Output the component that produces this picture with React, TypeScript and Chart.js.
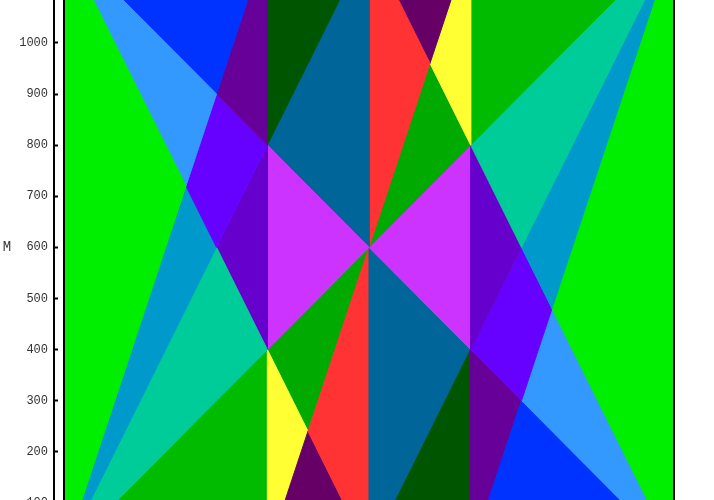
import { useEffect, useRef } from 'react';
import { Chart, registerables } from 'chart.js';

Chart.register(...registerables);

// ---- axis data ----
const yTickValues = [0, 100, 200, 300, 400, 500, 600, 700, 800, 900, 1000, 1100, 1200];
const yTitle = 'M';
const X_MIN = -19.67;
const X_MAX = 1200;
const Y_MIN = 0;
const Y_MAX = 1200;

// ---- region vertices (data units) ----
const brightGreenLeft = [[0, 0], [240, 720], [0, 1200]];
const lightBlueLeft = [[0, 1200], [240, 720], [300, 900]];
const blueLeft = [[0, 1200], [300, 900], [400, 1200]];
const indigoLeft = [[400, 1200], [300, 900], [400, 800]];
const violetLeft = [[300, 900], [400, 800], [300, 600], [240, 720]];
const skyLeft = [[0, 0], [300, 600], [240, 720]];
const tealLeft = [[400, 400], [0, 0], [300, 600]];
const purpleLeft = [[400, 400], [300, 600], [400, 800]];
const magentaLeft = [[400, 800], [600, 600], [400, 400]];
const darkGreenTop = [[400, 800], [400, 1200], [600, 1200]];
const steelTop = [[400, 800], [600, 1200], [600, 600]];
const redTop = [[600, 600], [720, 960], [600, 1200]];
const plumTop = [[720, 960], [600, 1200], [800, 1200]];
const yellowTop = [[720, 960], [800, 1200], [800, 800]];
const midGreenTop = [[600, 600], [720, 960], [800, 800]];
const greenTopRight = [[800, 800], [800, 1200], [1200, 1200]];
const tealRight = [[800, 800], [1200, 1200], [900, 600]];
const skyRight = [[1200, 1200], [900, 600], [960, 480]];
const brightGreenRight = [[1200, 1200], [960, 480], [1200, 0]];
const purpleRight = [[800, 800], [900, 600], [800, 400]];
const violetRight = [[900, 300], [800, 400], [900, 600], [960, 480]];
const lightBlueRight = [[1200, 0], [960, 480], [900, 300]];
const blueRight = [[1200, 0], [900, 300], [800, 0]];
const indigoRight = [[800, 0], [900, 300], [800, 400]];
const magentaRight = [[800, 400], [600, 600], [800, 800]];
const darkGreenBottom = [[800, 400], [800, 0], [600, 0]];
const steelBottom = [[800, 400], [600, 0], [600, 600]];
const redBottom = [[600, 600], [480, 240], [600, 0]];
const plumBottom = [[480, 240], [600, 0], [400, 0]];
const yellowBottom = [[480, 240], [400, 0], [400, 400]];
const midGreenBottom = [[600, 600], [480, 240], [400, 400]];
const greenBottomLeft = [[400, 400], [400, 0], [0, 0]];

const frame = [[0, 0], [1200, 0], [1200, 1200], [0, 1200]];

const regions = [
  brightGreenLeft, lightBlueLeft, blueLeft, indigoLeft, violetLeft, skyLeft, tealLeft, purpleLeft,
  magentaLeft, darkGreenTop, steelTop, redTop, plumTop, yellowTop, midGreenTop, greenTopRight,
  tealRight, skyRight, brightGreenRight, purpleRight, violetRight, lightBlueRight, blueRight, indigoRight,
  magentaRight, darkGreenBottom, steelBottom, redBottom, plumBottom, yellowBottom, midGreenBottom, greenBottomLeft,
];
const regionColors = [
  '#00ee00', '#3399ff', '#0033ff', '#660099', '#6600ff', '#0099cc', '#00cc99', '#6600cc',
  '#cc33ff', '#005500', '#006699', '#ff3333', '#660066', '#ffff33', '#00aa00', '#00bb00',
  '#00cc99', '#0099cc', '#00ee00', '#6600cc', '#6600ff', '#3399ff', '#0033ff', '#660099',
  '#cc33ff', '#005500', '#006699', '#ff3333', '#660066', '#ffff33', '#00aa00', '#00bb00',
];

const toPoints = (poly: number[][]) => {
  const pts = poly.map(([x, y]) => ({ x, y }));
  pts.push({ x: poly[0][0], y: poly[0][1] });
  return pts;
};

const yTitlePlugin = {
  id: 'yTitleUpright',
  afterDraw(chart: any) {
    const ys = chart.scales.y;
    const ctx = chart.ctx;
    ctx.save();
    ctx.font = '14px "Liberation Mono", monospace';
    ctx.fillStyle = '#333';
    ctx.textAlign = 'center';
    ctx.textBaseline = 'middle';
    ctx.fillText(yTitle, ys.left + 7, (ys.top + ys.bottom) / 2);
    ctx.restore();
  },
};

export default function App() {
  const ref = useRef<HTMLCanvasElement>(null);

  useEffect(() => {
    if (!ref.current) return;
    const datasets: any[] = [
      {
        data: toPoints(frame),
        fill: false,
        borderColor: '#000',
        borderWidth: 2,
        pointRadius: 0,
        clip: false,
      },
      ...regions.map((poly, i) => ({
        data: toPoints(poly),
        fill: 'shape',
        backgroundColor: regionColors[i],
        borderColor: regionColors[i],
        borderWidth: 1,
        borderJoinStyle: 'round',
        pointRadius: 0,
      })),
    ];
    const chart = new Chart(ref.current, {
      type: 'line',
      data: { datasets },
      options: {
        responsive: false,
        animation: false,
        layout: { padding: { top: 20.7, bottom: 66.1, left: 0, right: 40 } },
        plugins: {
          legend: { display: false },
          tooltip: { enabled: false },
        },
        elements: { point: { radius: 0 }, line: { tension: 0 } },
        scales: {
          x: { type: 'linear', min: X_MIN, max: X_MAX, display: false },
          y: {
            type: 'linear',
            min: Y_MIN,
            max: Y_MAX,
            afterBuildTicks: (s: any) => {
              s.ticks = yTickValues.map((v) => ({ value: v }));
            },
            afterFit: (s: any) => {
              s.width = 54;
            },
            ticks: {
              padding: 10,
              color: '#333',
              font: { family: '"Liberation Mono", monospace', size: 12 },
              callback: (v: any) => String(v),
            },
            grid: {
              drawOnChartArea: false,
              tickLength: -4,
              tickWidth: 2,
              color: '#000',
            },
            border: { color: '#000', width: 2 },
          },
        },
      } as any,
      plugins: [yTitlePlugin],
    });
    return () => chart.destroy();
  }, []);

  return (
    <div style={{ position: 'absolute', left: 0, top: -80, width: 714, height: 700 }}>
      <canvas ref={ref} width={714} height={700} style={{ display: 'block' }} />
    </div>
  );
}
